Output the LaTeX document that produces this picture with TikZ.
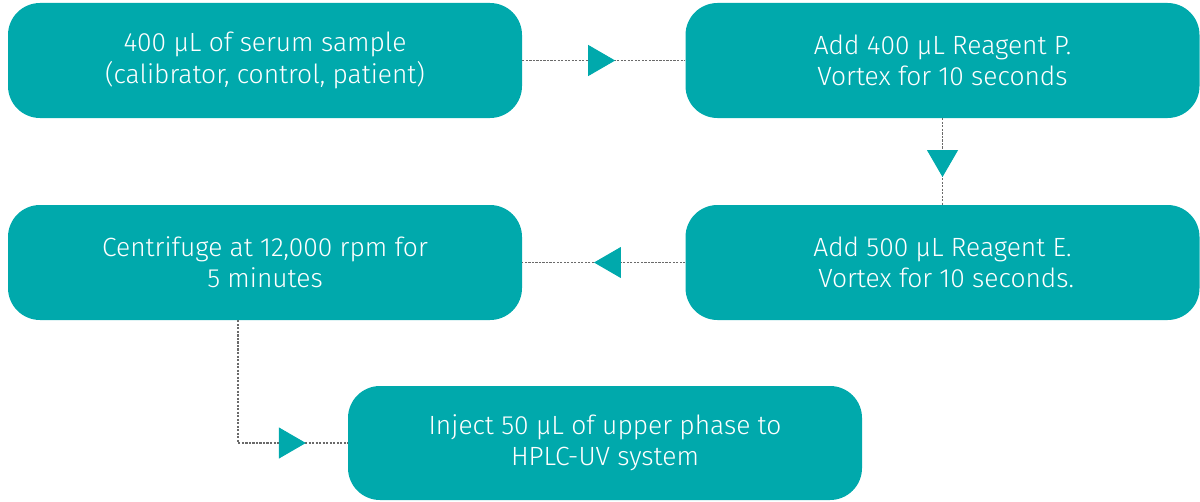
\documentclass[tikz,border=0pt]{standalone}
\usepackage{fontspec}
\setmainfont{Fira Sans}[UprightFont={* Light}]
\usepackage{xcolor}
\usepackage{tikz}
\usetikzlibrary{arrows.meta,decorations.markings}
\definecolor{teal}{HTML}{00A9AC}
\definecolor{dots}{HTML}{6A6A6A}
\tikzset{
  stepbox/.style={rectangle, rounded corners=0.64cm, fill=teal, text=white,
    minimum width=10.28cm, minimum height=2.3cm, align=center,
    font=\fontsize{15}{17.8}\selectfont},
  flow/.style={draw=dots, line width=0.6pt, dash pattern=on 1.2pt off 0.8pt,
    postaction={decorate, decoration={markings,
      mark=at position #1 with {\arrow{Triangle[length=5.4mm, width=6.2mm, color=teal, fill=teal]}}}}}
}
\begin{document}
\begin{tikzpicture}
  \useasboundingbox (0,0) rectangle (24,-10.02);

  \node[stepbox] (serum)  at (5.3,-1.21)   {400 µL of serum sample\\(calibrator, control, patient)};
  \node[stepbox] (reagp)  at (18.85,-1.21) {Add 400 µL Reagent P.\\Vortex for 10 seconds};
  \node[stepbox] (reage)  at (18.85,-5.25) {Add 500 µL Reagent E.\\\ Vortex for 10 seconds.};
  \node[stepbox] (spin)   at (5.3,-5.25)   {Centrifuge at 12,000 rpm for\\5 minutes};
  \node[stepbox, minimum height=2.28cm] (inject) at (12.1,-8.86) {Inject 50 µL of upper phase to\\HPLC-UV system};

  \coordinate (drop) at ([xshift=-0.54cm]spin.south);

  \draw[flow=0.57] (serum) -- (reagp);
  \draw[flow=0.68] (reagp) -- (reage);
  \draw[flow=0.56] (reage) -- (spin);
  \draw[flow=0.82] (drop) |- (inject);
\end{tikzpicture}
\end{document}
